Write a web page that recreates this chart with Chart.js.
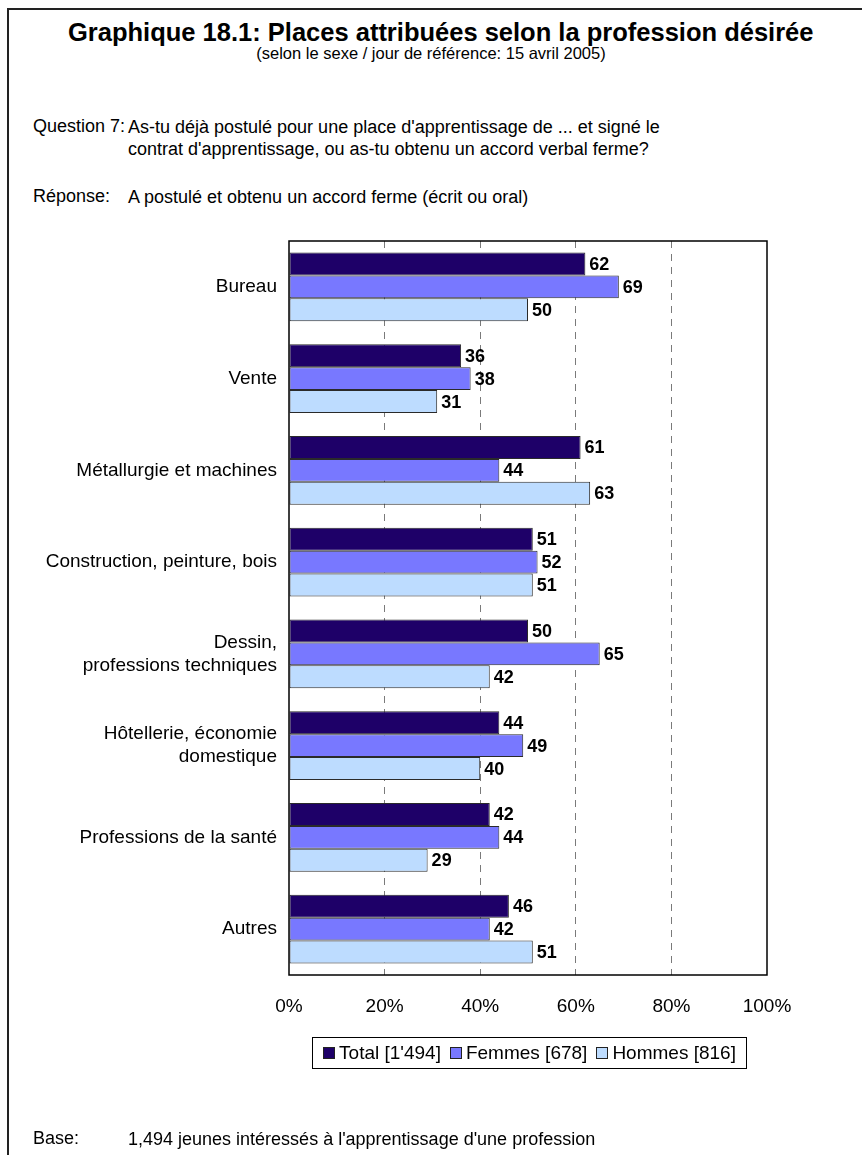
<!DOCTYPE html>
<html>
<head>
<meta charset="utf-8">
<title>Graphique 18.1</title>
<script src="https://cdn.jsdelivr.net/npm/chart.js@4.4.1/dist/chart.umd.min.js"></script>
<style>
  body { margin: 0; background: #fff; font-family: Arial, "Liberation Sans", sans-serif; color: #000; }
  #page { position: relative; width: 862px; height: 1155px; overflow: hidden; }
  #frame { position: absolute; left: 7px; top: 8px; width: 900px; height: 1200px; border: 2px solid #222; }
  .txt { position: absolute; white-space: nowrap; }
  #title { left: 68px; top: 18px; font-weight: bold; font-size: 25.5px; }
  #subtitle { left: 0; width: 862px; top: 44px; text-align: center; font-size: 16.5px; }
  .lbl { left: 33px; font-size: 18px; }
  .val { left: 128px; font-size: 18px; line-height: 22px; }
  #chart { position: absolute; left: 0; top: 0; }
  #visit-chart-legend { position: absolute; left: 312px; top: 1037px; width: 433px; height: 30px;
    border: 1px solid #000; display: flex; align-items: center; justify-content: center; }
  #visit-chart-legend ul { list-style: none; margin: 0; padding: 0; display: flex; gap: 9px; font-size: 19px; }
  #visit-chart-legend li { display: flex; align-items: center; }
  #visit-chart-legend span { display: inline-block; width: 10px; height: 10px; border: 1px solid #222; margin-right: 4px; }
</style>
</head>
<body>
<div id="page">
  <div id="frame"></div>
  <div class="txt" id="title">Graphique 18.1: Places attribuées selon la profession désirée</div>
  <div class="txt" id="subtitle">(selon le sexe / jour de référence: 15 avril 2005)</div>

  <div class="txt lbl" style="top:116px">Question 7:</div>
  <div class="txt val" style="top:116px">As-tu déjà postulé pour une place d'apprentissage de ... et signé le<br>contrat d'apprentissage, ou as-tu obtenu un accord verbal ferme?</div>
  <div class="txt lbl" style="top:186px">Réponse:</div>
  <div class="txt val" style="top:186px">A postulé et obtenu un accord ferme (écrit ou oral)</div>

  <canvas id="chart" width="862" height="1155"></canvas>
  <div id="visit-chart-legend"></div>

  <div class="txt lbl" style="top:1128px">Base:</div>
  <div class="txt val" style="top:1128px">1,494 jeunes intéressés à l'apprentissage d'une profession</div>
</div>

<script>
  const professions = [
    'Bureau',
    'Vente',
    'Métallurgie et machines',
    'Construction, peinture, bois',
    ['Dessin,', 'professions techniques'],
    ['Hôtellerie, économie', 'domestique'],
    'Professions de la santé',
    'Autres'
  ];
  const seriesNames = ["Total [1'494]", 'Femmes [678]', 'Hommes [816]'];
  const totalValues = [62, 36, 61, 51, 50, 44, 42, 46];
  const femmesValues = [69, 38, 44, 52, 65, 49, 44, 42];
  const hommesValues = [50, 31, 63, 51, 42, 40, 29, 51];
  const percentTicks = [0, 20, 40, 60, 80, 100];

  const colorTotal = '#1e0068';
  const colorFemmes = '#7878ff';
  const colorHommes = '#bddcff';

  // value next to each bar
  const valueLabels = {
    id: 'valueLabels',
    afterDatasetsDraw(chart) {
      const ctx = chart.ctx;
      ctx.save();
      ctx.font = 'bold 18px Arial, "Liberation Sans", sans-serif';
      ctx.fillStyle = '#000';
      ctx.textAlign = 'left';
      ctx.textBaseline = 'middle';
      chart.data.datasets.forEach((ds, i) => {
        chart.getDatasetMeta(i).data.forEach((bar, j) => {
          ctx.fillText(ds.data[j], bar.x + 4, bar.y + 1);
        });
      });
      ctx.restore();
    }
  };

  // black frame round the plot area
  const plotFrame = {
    id: 'plotFrame',
    afterDraw(chart) {
      const a = chart.chartArea;
      const ctx = chart.ctx;
      ctx.save();
      ctx.strokeStyle = '#000';
      ctx.lineWidth = 1.5;
      ctx.strokeRect(a.left, a.top, a.right - a.left, a.bottom - a.top);
      ctx.restore();
    }
  };

  const htmlLegend = {
    id: 'htmlLegend',
    afterUpdate(chart) {
      const ul = document.createElement('ul');
      chart.data.datasets.forEach(ds => {
        ul.innerHTML += `<li><span style="background-color: ${ds.backgroundColor}"></span>${ds.label}</li>`;
      });
      const legendEl = document.getElementById('visit-chart-legend');
      legendEl.innerHTML = '';
      legendEl.appendChild(ul);
    }
  };

  const dataset = (label, data, color) => ({
    label: label,
    data: data,
    backgroundColor: color,
    borderColor: '#2a2a2a',
    borderWidth: 1,
    borderSkipped: false,
    barPercentage: 1,
    categoryPercentage: 0.752
  });

  new Chart(document.getElementById('chart'), {
    type: 'bar',
    data: {
      labels: professions,
      datasets: [
        dataset(seriesNames[0], totalValues, colorTotal),
        dataset(seriesNames[1], femmesValues, colorFemmes),
        dataset(seriesNames[2], hommesValues, colorHommes)
      ]
    },
    options: {
      indexAxis: 'y',
      responsive: false,
      animation: false,
      layout: { padding: { left: 0, top: 241, right: 95, bottom: 0 } },
      scales: {
        x: {
          min: 0,
          max: 100,
          afterBuildTicks: scale => { scale.ticks = percentTicks.map(v => ({ value: v })); },
          afterFit: scale => { scale.height = 180; },
          ticks: {
            callback: v => v + '%',
            color: '#000',
            padding: 20,
            maxRotation: 0,
            font: { family: 'Arial, "Liberation Sans", sans-serif', size: 19 }
          },
          grid: {
            drawTicks: false,
            color: c => (c.tick && (c.tick.value === 0 || c.tick.value === 100)) ? 'rgba(0,0,0,0)' : '#7a7a7a',
            lineWidth: 1
          },
          border: { display: false, dash: [7, 6] }
        },
        y: {
          afterFit: scale => { scale.width = 289; },
          ticks: {
            color: '#000',
            padding: 12,
            font: { family: 'Arial, "Liberation Sans", sans-serif', size: 19, lineHeight: 1.2 }
          },
          grid: { display: false, drawTicks: false },
          border: { display: false }
        }
      },
      plugins: {
        legend: { display: false },
        tooltip: { enabled: false }
      }
    },
    plugins: [valueLabels, plotFrame, htmlLegend]
  });
</script>
</body>
</html>
